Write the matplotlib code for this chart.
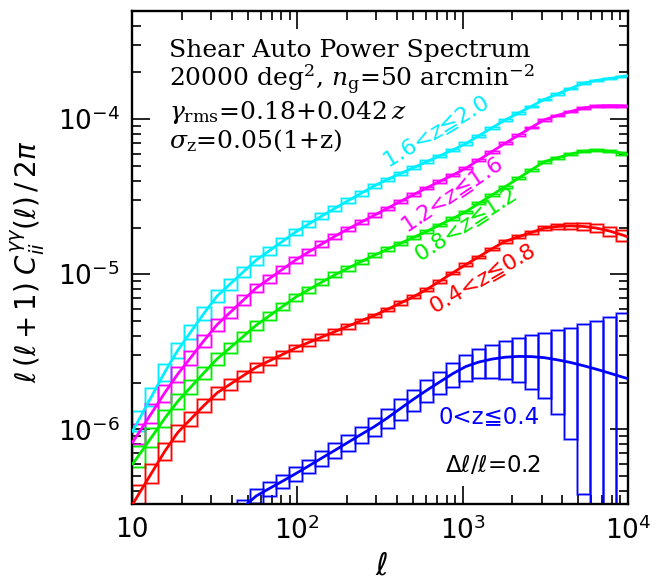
import numpy as np
import matplotlib
matplotlib.use("Agg")
import matplotlib.pyplot as plt
from matplotlib.ticker import FuncFormatter, LogLocator, NullFormatter

# ---------------- data ----------------
# multipole bin edges (Delta l / l = 0.2)
bin_edges = [10, 12, 14.4, 17.28, 20.74, 24.88, 29.86, 35.83, 43.0, 51.6, 61.92,
             74.3, 89.16, 107.0, 128.4, 154.1, 184.9, 221.9, 266.2, 319.5, 383.4,
             460.0, 552.1, 662.5, 795.0, 954.0, 1144.8, 1373.7, 1648.4, 1978.1,
             2373.8, 2848.5, 3418.2, 4101.8, 4922.2, 5906.6, 7087.9, 8505.5, 10206.6]

# log10 of l(l+1)C/2pi at bin centres, plus values at l=10 and l=10^4
log_P_cyan = [-5.943, -5.787, -5.632, -5.490, -5.371, -5.252, -5.141, -5.063, -4.985, -4.908,
              -4.848, -4.788, -4.728, -4.676, -4.625, -4.575, -4.526, -4.479, -4.431, -4.389,
              -4.351, -4.313, -4.275, -4.237, -4.199, -4.158, -4.107, -4.056, -4.006, -3.962,
              -3.918, -3.873, -3.838, -3.803, -3.768, -3.750, -3.738, -3.725]
log_P_cyan_ends = [-6.02, -3.72]
log_P_magenta = [-6.025, -5.895, -5.765, -5.643, -5.536, -5.428, -5.325, -5.246, -5.167, -5.088,
                 -5.028, -4.968, -4.908, -4.856, -4.805, -4.755, -4.708, -4.664, -4.620, -4.575,
                 -4.531, -4.487, -4.444, -4.402, -4.361, -4.317, -4.263, -4.209, -4.156, -4.105,
                 -4.054, -4.004, -3.976, -3.951, -3.928, -3.916, -3.913, -3.915]
log_P_magenta_ends = [-6.09, -3.918]
log_P_green = [-6.170, -6.050, -5.929, -5.819, -5.727, -5.635, -5.546, -5.474, -5.401, -5.328,
               -5.268, -5.208, -5.148, -5.099, -5.051, -5.004, -4.961, -4.919, -4.878, -4.839,
               -4.801, -4.763, -4.724, -4.682, -4.641, -4.597, -4.543, -4.489, -4.436, -4.382,
               -4.328, -4.274, -4.249, -4.225, -4.207, -4.201, -4.207, -4.220]
log_P_green_ends = [-6.23, -4.23]
log_P_red = [-6.420, -6.281, -6.142, -6.020, -5.933, -5.846, -5.765, -5.709, -5.654, -5.599,
             -5.558, -5.517, -5.475, -5.440, -5.405, -5.370, -5.335, -5.300, -5.266, -5.227,
             -5.186, -5.145, -5.099, -5.045, -4.991, -4.938, -4.887, -4.836, -4.788, -4.759,
             -4.731, -4.702, -4.692, -4.688, -4.692, -4.703, -4.722, -4.748]
log_P_red_ends = [-6.49, -4.76]
log_P_blue = [-7.203, -7.108, -7.012, -6.919, -6.827, -6.735, -6.646, -6.574, -6.501, -6.429,
              -6.381, -6.334, -6.286, -6.236, -6.185, -6.135, -6.084, -6.033, -5.983, -5.927,
              -5.866, -5.806, -5.749, -5.695, -5.641, -5.595, -5.566, -5.547, -5.535, -5.530,
              -5.531, -5.538, -5.552, -5.569, -5.590, -5.613, -5.638, -5.664]
log_P_blue_ends = [-7.25, -5.673]

# fractional 1-sigma errors per bin
err_cyan = [0.150, 0.137, 0.125, 0.114, 0.104, 0.095, 0.087, 0.079, 0.072, 0.066,
            0.060, 0.055, 0.050, 0.046, 0.042, 0.038, 0.035, 0.032, 0.029, 0.027,
            0.025, 0.023, 0.021, 0.019, 0.018, 0.017, 0.016, 0.015, 0.014, 0.014,
            0.013, 0.013, 0.012, 0.012, 0.012, 0.012, 0.012, 0.012]
err_magenta = [0.150, 0.137, 0.125, 0.114, 0.104, 0.095, 0.087, 0.079, 0.072, 0.066,
               0.060, 0.055, 0.050, 0.046, 0.042, 0.038, 0.035, 0.032, 0.029, 0.027,
               0.025, 0.023, 0.021, 0.019, 0.018, 0.017, 0.016, 0.015, 0.015, 0.014,
               0.014, 0.014, 0.013, 0.013, 0.013, 0.013, 0.013, 0.013]
err_green = [0.150, 0.137, 0.125, 0.114, 0.104, 0.095, 0.087, 0.079, 0.072, 0.066,
             0.060, 0.055, 0.050, 0.046, 0.042, 0.038, 0.035, 0.032, 0.029, 0.027,
             0.025, 0.023, 0.021, 0.019, 0.018, 0.017, 0.016, 0.016, 0.015, 0.015,
             0.015, 0.015, 0.015, 0.016, 0.016, 0.017, 0.018, 0.020]
err_red = [0.150, 0.137, 0.125, 0.114, 0.104, 0.095, 0.087, 0.079, 0.072, 0.066,
           0.060, 0.055, 0.050, 0.046, 0.042, 0.038, 0.035, 0.032, 0.029, 0.027,
           0.025, 0.023, 0.021, 0.019, 0.018, 0.017, 0.017, 0.018, 0.019, 0.021,
           0.024, 0.028, 0.033, 0.040, 0.048, 0.058, 0.070, 0.085]
err_blue = [0.20, 0.19, 0.18, 0.17, 0.165, 0.16, 0.16, 0.12, 0.11, 0.105,
            0.10, 0.10, 0.10, 0.10, 0.105, 0.11, 0.115, 0.12, 0.13, 0.14,
            0.15, 0.155, 0.16, 0.165, 0.175, 0.19, 0.21, 0.24, 0.28, 0.32,
            0.38, 0.45, 0.55, 0.68, 0.85, 1.05, 1.30, 1.60]

series = [
    ("1.6<$z$≦2.0", "#00EEFF", log_P_cyan, log_P_cyan_ends, err_cyan),
    ("1.2<$z$≦1.6", "#FF00FF", log_P_magenta, log_P_magenta_ends, err_magenta),
    ("0.8<$z$≦1.2", "#00EE00", log_P_green, log_P_green_ends, err_green),
    ("0.4<$z$≦0.8", "#FF0000", log_P_red, log_P_red_ends, err_red),
    ("0<z≦0.4", "#0000FF", log_P_blue, log_P_blue_ends, err_blue),
]

x_range = (10, 1e4)
y_range = (3.3e-7, 5e-4)

# ---------------- figure ----------------
plt.rcParams["font.family"] = ["DejaVu Sans"]
plt.rcParams["mathtext.fontset"] = "dejavusans"

fig = plt.figure(figsize=(6.7, 5.79), dpi=100)
ax = fig.add_axes([0.197, 0.1295, 0.7403, 0.852])
ax.set_xscale("log")
ax.set_yscale("log")
ax.set_xlim(*x_range)
ax.set_ylim(*y_range)

edges = np.array(bin_edges)
centres = np.sqrt(edges[:-1] * edges[1:])
for label, color, logp, ends, err in series:
    P = 10 ** np.array(logp)
    sig = np.array(err) * P
    lo = P - sig
    hi = P + sig
    lo = np.where(lo > 0, lo, y_range[0] * 0.1)
    # pale halo + crisp outline, like the original's doubled box edges
    ax.bar(edges[:-1], hi - lo, width=np.diff(edges), bottom=lo, align="edge",
           fill=False, edgecolor=color, alpha=0.4, linewidth=2.0, zorder=2)
    ax.bar(edges[:-1], hi - lo, width=np.diff(edges), bottom=lo, align="edge",
           fill=False, edgecolor=color, linewidth=0.9, zorder=2)
    lx = np.concatenate([[x_range[0]], centres, [x_range[1]]])
    ly = 10 ** np.concatenate([[ends[0]], logp, [ends[1]]])
    ax.plot(lx, ly, color=color, lw=2.0, zorder=3, solid_capstyle="butt")

# ticks
def xfmt(v, pos):
    e = int(round(np.log10(v)))
    return "10" if e == 1 else r"$10^{%d}$" % e

def yfmt(v, pos):
    e = int(round(np.log10(v)))
    return r"$10^{%d}$" % e

ax.xaxis.set_major_locator(LogLocator(base=10, numticks=10))
ax.xaxis.set_minor_locator(LogLocator(base=10, subs=np.arange(2, 10), numticks=20))
ax.yaxis.set_major_locator(LogLocator(base=10, numticks=10))
ax.yaxis.set_minor_locator(LogLocator(base=10, subs=np.arange(2, 10), numticks=20))
ax.xaxis.set_major_formatter(FuncFormatter(xfmt))
ax.yaxis.set_major_formatter(FuncFormatter(yfmt))
ax.xaxis.set_minor_formatter(NullFormatter())
ax.yaxis.set_minor_formatter(NullFormatter())
ax.tick_params(which="both", direction="in", top=True, right=True, width=1.2)
ax.tick_params(which="major", length=13, labelsize=19, pad=9)
ax.tick_params(which="minor", length=6.5)
for s in ax.spines.values():
    s.set_linewidth(1.7)

# axis labels
fig.text(382 / 670, 1 - 566 / 579, r"$\ell$", fontsize=22, ha="center", va="center")
fig.text(28 / 670, 1 - 262 / 579,
         r"$\ell\,(\ell+1)\;C^{\gamma\gamma}_{ii}(\ell)\,/\,2\pi$",
         fontsize=20, rotation=90, ha="center", va="center")

# annotation block
tx = 169 / 670
kw = dict(fontsize=18, family="DejaVu Serif", math_fontfamily="dejavuserif",
          ha="left", va="center")
fig.text(tx, 1 - 50 / 579, "Shear Auto Power Spectrum", **kw)
fig.text(tx, 1 - 80 / 579, r"20000 deg$^{2}$, $n_{\rm g}$=50 arcmin$^{-2}$", **kw)
fig.text(tx, 1 - 112 / 579, r"$\gamma_{\rm rms}$=0.18+0.042$\,z$", **kw)
fig.text(tx, 1 - 141 / 579, r"$\sigma_{\rm z}$=0.05(1+z)", **kw)

# curve labels
lab_pos = [(436, 132, 31), (452, 195, 34), (465, 225, 33), (482, 279, 30)]
for (label, color, _, _, _), (px, py, rot) in zip(series[:4], lab_pos):
    fig.text(px / 670, 1 - py / 579, label, color=color, fontsize=16,
             rotation=rot, ha="center", va="center", rotation_mode="anchor")
fig.text(489 / 670, 1 - 417 / 579, series[4][0], color=series[4][1], fontsize=16.5,
         ha="center", va="center")
fig.text(493 / 670, 1 - 465 / 579, r"$\Delta\ell/\ell$=0.2", fontsize=16.5,
         ha="center", va="center")

fig.savefig("out.png", dpi=100)
